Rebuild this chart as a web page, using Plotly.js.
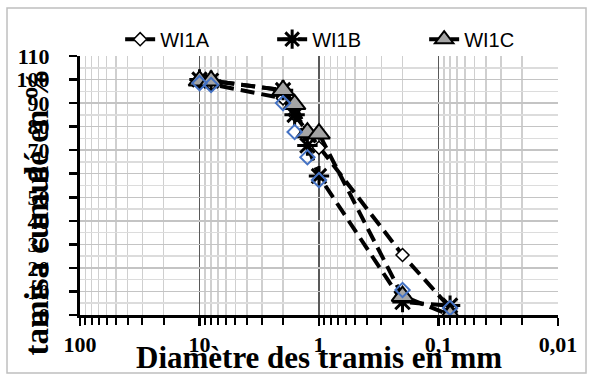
<!DOCTYPE html>
<html>
<head>
<meta charset="utf-8">
<script src="https://cdn.plot.ly/plotly-3.0.1.min.js"></script>
<style>html,body{margin:0;padding:0;background:#fff;}#chart{width:592px;height:380px;}</style>
</head>
<body>
<div id="chart"></div>
<script>
// Sieve openings (mm)
const sieves = [10, 8, 2, 1.6, 1.25, 1, 0.2, 0.08];
// Cumulative passing (%) per sample
const wi1a = [99, 98, 92, 85, 78, 71, 25.5, 3];
const wi1b = [100, 99.5, 95.5, 85, 72, 59, 5.5, 4];
const wi1c = [99.5, 99.5, 95.5, 89.5, 77.5, 77, 8, 0];
// Extra blue diamond markers seen on the chart
const blueMarks = [98.5, 97.7, 90, 77.7, 67, 57.3, 10.6, 3];
// Tick labels
const xTickVals = [100, 10, 1, 0.1, 0.01];
const xTickText = ['100', '10', '1', '0,1', '0,01'];
const yTickVals = [0, 10, 20, 30, 40, 50, 60, 70, 80, 90, 100, 110];

const dashLine = {color: '#000', width: 4, dash: '14px,7px'};
const traces = [
  {x: sieves, y: wi1a, name: 'WI1A', type: 'scatter', mode: 'lines+markers',
   line: dashLine,
   marker: {symbol: 'diamond', size: 10, color: '#fff', line: {color: '#000', width: 1.5}}},
  {x: sieves, y: wi1b, name: 'WI1B', type: 'scatter', mode: 'lines+markers',
   line: dashLine,
   marker: {symbol: 'asterisk-open', size: 17, color: '#000', line: {color: '#000', width: 3}}},
  {x: sieves, y: wi1c, name: 'WI1C', type: 'scatter', mode: 'lines+markers',
   line: dashLine,
   marker: {symbol: 'triangle-up', size: 19, color: '#a5a5a5', line: {color: '#000', width: 2}}},
  {x: sieves, y: blueMarks, name: '', type: 'scatter', mode: 'markers', showlegend: false,
   marker: {symbol: 'diamond', size: 11, color: 'rgba(255,255,255,0)', line: {color: '#4472c4', width: 2}}}
];

const serif = 'Liberation Serif, Times New Roman, serif';
const layout = {
  width: 592, height: 380,
  margin: {l: 80, r: 34, t: 56, b: 65, autoexpand: false},
  paper_bgcolor: '#fff', plot_bgcolor: '#fff',
  showlegend: true,
  legend: {orientation: 'h', x: 0.084, xanchor: 'left', y: 1.065, yanchor: 'middle',
           font: {family: 'Liberation Sans, Arial, sans-serif', size: 20, color: '#000'},
           entrywidth: 107, entrywidthmode: 'pixels', itemgap: 0, bgcolor: 'rgba(0,0,0,0)'},
  xaxis: {
    type: 'log', range: [2, -2], autorange: false,
    tickvals: xTickVals, ticktext: xTickText,
    tickfont: {family: serif, size: 22, color: '#000', weight: 'bold'},
    ticks: 'outside', ticklen: 8, tickwidth: 2.5, tickcolor: '#000',
    ticklabelstandoff: 0,
    showline: true, linecolor: '#000', linewidth: 3,
    showgrid: true, gridcolor: '#595959', gridwidth: 1.2,
    minor: {dtick: 'D1', ticks: 'outside', ticklen: 7, tickwidth: 2, tickcolor: '#000',
            showgrid: true, gridcolor: '#cfcfcf', gridwidth: 1.5},
    zeroline: false
  },
  yaxis: {
    range: [0, 110], autorange: false,
    tickvals: yTickVals,
    tickfont: {family: serif, size: 22, color: '#000', weight: 'bold'},
    ticks: 'outside', ticklen: 8, tickwidth: 2.5, tickcolor: '#000',
    ticklabelstandoff: 15,
    showline: true, linecolor: '#000', linewidth: 3,
    showgrid: true, gridcolor: '#c4c4c4', gridwidth: 1.5,
    minor: {dtick: 5, showgrid: true, gridcolor: '#dcdcdc', gridwidth: 1.5},
    zeroline: false
  },
  annotations: [
    {text: '<b>Diamètre des tramis en mm</b>', xref: 'paper', yref: 'paper',
     x: 0.5, y: -0.166, xanchor: 'center', yanchor: 'middle', showarrow: false,
     font: {family: serif, size: 31, color: '#000'}},
    {text: '<b>tamisa cumulé en %</b>', xref: 'paper', yref: 'paper',
     x: -0.09, y: 0.40, xanchor: 'center', yanchor: 'middle', textangle: -90, showarrow: false,
     font: {family: serif, size: 33, color: '#000'}}
  ],
  shapes: [
    {type: 'rect', xref: 'paper', yref: 'paper', x0: -0.1527, x1: 1.0586, y0: -0.224, y1: 1.185,
     line: {color: '#bfbfbf', width: 1.5}, fillcolor: 'rgba(0,0,0,0)', layer: 'below'}
  ]
};
Plotly.newPlot('chart', traces, layout, {displayModeBar: false, staticPlot: true});
</script>
</body>
</html>
